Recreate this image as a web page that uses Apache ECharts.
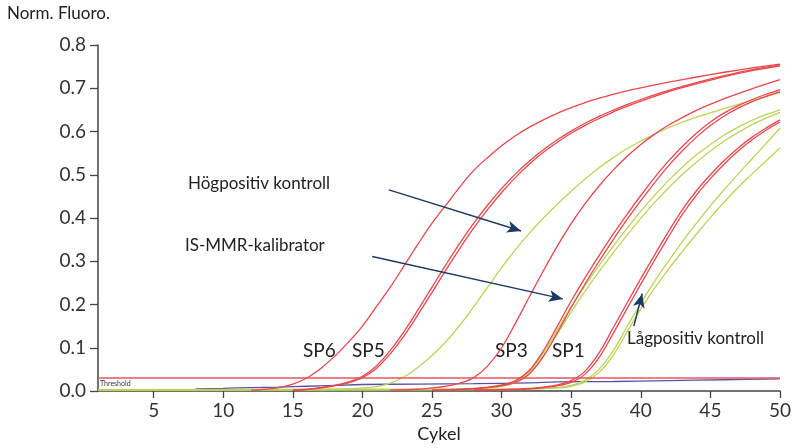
<!DOCTYPE html>
<html>
<head>
<meta charset="utf-8">
<script src="https://cdn.jsdelivr.net/npm/echarts@6/dist/echarts.min.js"></script>
<style>
  html, body { margin: 0; padding: 0; background: #fff; }
  #chart { width: 794px; height: 448px; }
</style>
</head>
<body>
<div id="chart"></div>
<script>
// x ticks and y range
var xTicks = [5, 10, 15, 20, 25, 30, 35, 40, 45, 50];
var thresholdValue = 0.03;

// standards (red), [cycle, norm. fluoro.]
var sp6 = [[12,0.002],[13,0.004],[14,0.008],[15,0.016],[16,0.03],[17,0.052],[18,0.08],[19,0.113],[20,0.15],[21,0.195],[22,0.24],[23,0.29],[24,0.34],[25,0.388],[26,0.43],[27,0.472],[28,0.51],[29,0.54],[30,0.567],[31,0.59],[32,0.61],[33,0.627],[34,0.642],[35,0.655],[36,0.667],[37,0.677],[38,0.686],[39,0.694],[40,0.701],[42,0.714],[44,0.726],[46,0.737],[48,0.747],[50,0.756]];
var sp5a = [[15,0.002],[16,0.004],[17,0.008],[18,0.013],[19,0.021],[20,0.034],[21,0.058],[22,0.094],[23,0.138],[24,0.188],[25,0.24],[26,0.292],[27,0.342],[28,0.388],[29,0.43],[30,0.468],[31,0.502],[32,0.532],[33,0.558],[34,0.581],[35,0.601],[36,0.619],[37,0.635],[38,0.649],[39,0.662],[40,0.674],[42,0.695],[44,0.713],[46,0.729],[48,0.743],[50,0.754]];
var sp5b = [[15,0.002],[16,0.003],[17,0.007],[18,0.012],[19,0.019],[20,0.031],[21,0.052],[22,0.086],[23,0.128],[24,0.177],[25,0.228],[26,0.28],[27,0.33],[28,0.377],[29,0.42],[30,0.459],[31,0.494],[32,0.525],[33,0.552],[34,0.575],[35,0.596],[36,0.614],[37,0.63],[38,0.645],[39,0.658],[40,0.67],[42,0.692],[44,0.71],[46,0.727],[48,0.741],[50,0.752]];
var sp4 = [[22,0.002],[24,0.004],[25,0.007],[26,0.011],[27,0.018],[28,0.031],[29,0.058],[30,0.1],[31,0.157],[32,0.218],[33,0.278],[34,0.335],[35,0.387],[36,0.433],[37,0.474],[38,0.51],[39,0.542],[40,0.57],[41,0.594],[42,0.615],[44,0.649],[46,0.676],[48,0.699],[50,0.72]];
var sp3a = [[25,0.002],[27,0.004],[28,0.006],[29,0.009],[30,0.014],[31,0.024],[32,0.048],[33,0.093],[34,0.15],[35,0.208],[36,0.262],[37,0.313],[38,0.362],[39,0.408],[40,0.452],[41,0.494],[42,0.532],[43,0.566],[44,0.596],[45,0.622],[46,0.643],[47,0.66],[48,0.674],[49,0.686],[50,0.697]];
var sp3b = [[25,0.002],[27,0.003],[28,0.005],[29,0.008],[30,0.012],[31,0.02],[32,0.04],[33,0.08],[34,0.135],[35,0.193],[36,0.248],[37,0.3],[38,0.349],[39,0.396],[40,0.44],[41,0.482],[42,0.521],[43,0.556],[44,0.587],[45,0.614],[46,0.636],[47,0.654],[48,0.669],[49,0.681],[50,0.692]];
var sp1a = [[28,0.002],[31,0.004],[32,0.006],[33,0.009],[34,0.014],[35,0.024],[36,0.046],[37,0.088],[38,0.145],[39,0.203],[40,0.26],[41,0.315],[42,0.369],[43,0.42],[44,0.463],[45,0.5],[46,0.533],[47,0.562],[48,0.587],[49,0.608],[50,0.627]];
var sp1b = [[28,0.002],[31,0.003],[32,0.005],[33,0.008],[34,0.012],[35,0.02],[36,0.039],[37,0.077],[38,0.132],[39,0.19],[40,0.247],[41,0.303],[42,0.357],[43,0.409],[44,0.453],[45,0.491],[46,0.525],[47,0.555],[48,0.581],[49,0.603],[50,0.622]];

// controls (green)
var hogpos = [[1,0.003],[10,0.003],[18,0.004],[20,0.007],[21,0.01],[22,0.018],[23,0.033],[24,0.055],[25,0.082],[26,0.114],[27,0.152],[28,0.195],[29,0.24],[30,0.285],[31,0.327],[32,0.365],[33,0.4],[34,0.432],[35,0.462],[36,0.49],[37,0.516],[38,0.539],[39,0.56],[40,0.578],[41,0.594],[42,0.609],[44,0.633],[46,0.653],[48,0.672],[50,0.69]];
var kalA = [[1,0.003],[20,0.004],[27,0.005],[29,0.008],[30,0.012],[31,0.022],[32,0.045],[33,0.088],[34,0.142],[35,0.195],[36,0.244],[37,0.29],[38,0.334],[39,0.376],[40,0.416],[41,0.453],[42,0.487],[43,0.518],[44,0.546],[45,0.57],[46,0.592],[47,0.61],[48,0.626],[49,0.639],[50,0.65]];
var kalB = [[1,0.002],[20,0.003],[27,0.004],[29,0.007],[30,0.011],[31,0.02],[32,0.04],[33,0.08],[34,0.132],[35,0.183],[36,0.231],[37,0.276],[38,0.319],[39,0.36],[40,0.399],[41,0.436],[42,0.47],[43,0.501],[44,0.529],[45,0.555],[46,0.578],[47,0.598],[48,0.616],[49,0.631],[50,0.644]];
var lagposA = [[1,0.002],[25,0.003],[32,0.005],[34,0.008],[35,0.013],[36,0.025],[37,0.05],[38,0.092],[39,0.148],[40,0.203],[41,0.254],[42,0.301],[43,0.346],[44,0.388],[45,0.428],[46,0.466],[47,0.502],[48,0.537],[49,0.572],[50,0.608]];
var lagposB = [[1,0.002],[25,0.003],[32,0.004],[34,0.007],[35,0.011],[36,0.021],[37,0.043],[38,0.082],[39,0.136],[40,0.19],[41,0.238],[42,0.282],[43,0.323],[44,0.363],[45,0.401],[46,0.437],[47,0.471],[48,0.502],[49,0.532],[50,0.562]];

// negative control drift (purple)
var ntc = [[8,0.005],[10,0.006],[12,0.008],[14,0.009],[16,0.011],[18,0.013],[20,0.015],[24,0.016],[28,0.017],[32,0.019],[34,0.021],[38,0.022],[42,0.024],[46,0.026],[50,0.028]];

// annotation arrows, [from, to] in data coords
var arrows = [
  [[21.9, 0.465], [31.4, 0.37]],
  [[20.7, 0.311], [34.4, 0.213]],
  [[39.5, 0.15], [40.1, 0.225]]
];

var RED = '#e8474c';
var GREEN = '#bcd35a';
var NAVY = '#1d3a64';
var FONT = 'Lato';

function curve(name, data, color) {
  return {
    name: name,
    type: 'line',
    data: data,
    smooth: 0.35,
    symbol: 'none',
    silent: true,
    lineStyle: { color: color, width: 1.3 }
  };
}

var chart = echarts.init(document.getElementById('chart'));

var series = [
  curve('ntc', ntc, '#5b50a3'),
  curve('Högpositiv kontroll', hogpos, GREEN),
  curve('IS-MMR-kalibrator a', kalA, GREEN),
  curve('IS-MMR-kalibrator b', kalB, GREEN),
  curve('Lågpositiv kontroll a', lagposA, GREEN),
  curve('Lågpositiv kontroll b', lagposB, GREEN),
  curve('SP6', sp6, RED),
  curve('SP5a', sp5a, RED),
  curve('SP5b', sp5b, RED),
  curve('SP4', sp4, RED),
  curve('SP3a', sp3a, RED),
  curve('SP3b', sp3b, RED),
  curve('SP1a', sp1a, RED),
  curve('SP1b', sp1b, RED),
  {
    name: 'Threshold',
    type: 'line',
    data: [[1, thresholdValue], [50, thresholdValue]],
    symbol: 'none',
    silent: true,
    lineStyle: { color: '#e5575c', width: 1.6 },
    markLine: {
      silent: true,
      symbol: ['none', 'arrow'],
      symbolSize: [9, 14],
      lineStyle: { color: NAVY, width: 1.5, type: 'solid' },
      label: { show: false },
      data: arrows.map(function (a) {
        return [{ coord: a[0] }, { coord: a[1] }];
      })
    }
  }
];

var textStyle = { fill: '#222', fontFamily: FONT, fontSize: 17 };

var option = {
  animation: false,
  backgroundColor: '#fff',
  textStyle: { fontFamily: FONT },
  grid: { left: 98, right: 12, top: 45, bottom: 56 },
  xAxis: {
    type: 'value',
    min: 1,
    max: 50,
    name: 'Cykel',
    nameLocation: 'middle',
    nameGap: 34,
    nameTextStyle: { color: '#222', fontSize: 18, fontFamily: FONT },
    axisLine: { lineStyle: { color: '#444', width: 1.5 } },
    axisTick: { show: true, length: 7, customValues: xTicks, lineStyle: { color: '#444', width: 1.3 } },
    axisLabel: { customValues: xTicks, color: '#333', fontSize: 19, margin: 10 },
    splitLine: { show: false }
  },
  yAxis: {
    type: 'value',
    min: 0,
    max: 0.8,
    interval: 0.1,
    axisLine: { show: true, lineStyle: { color: '#444', width: 1.5 } },
    axisTick: { show: true, length: 8, lineStyle: { color: '#444', width: 1.3 } },
    axisLabel: {
      color: '#333', fontSize: 19, margin: 12,
      formatter: function (v) { return v.toFixed(1); }
    },
    splitLine: { show: false }
  },
  graphic: [
    { type: 'text', left: 7, top: 5, style: Object.assign({}, textStyle, { text: 'Norm. Fluoro.', fontSize: 17 }) },
    { type: 'text', left: 188, top: 175, style: Object.assign({}, textStyle, { text: 'Högpositiv kontroll' }) },
    { type: 'text', left: 185, top: 237, style: Object.assign({}, textStyle, { text: 'IS-MMR-kalibrator' }) },
    { type: 'text', left: 627, top: 330, style: Object.assign({}, textStyle, { text: 'Lågpositiv kontroll' }) },
    { type: 'text', left: 303, top: 341, style: Object.assign({}, textStyle, { text: 'SP6', fontSize: 19 }) },
    { type: 'text', left: 352, top: 341, style: Object.assign({}, textStyle, { text: 'SP5', fontSize: 19 }) },
    { type: 'text', left: 495, top: 341, style: Object.assign({}, textStyle, { text: 'SP3', fontSize: 19 }) },
    { type: 'text', left: 552, top: 341, style: Object.assign({}, textStyle, { text: 'SP1', fontSize: 19 }) },
    { type: 'text', left: 100, top: 380, style: { text: 'Threshold', fill: '#333', fontSize: 7, fontFamily: FONT } }
  ],
  series: series
};

chart.setOption(option);
</script>
</body>
</html>
